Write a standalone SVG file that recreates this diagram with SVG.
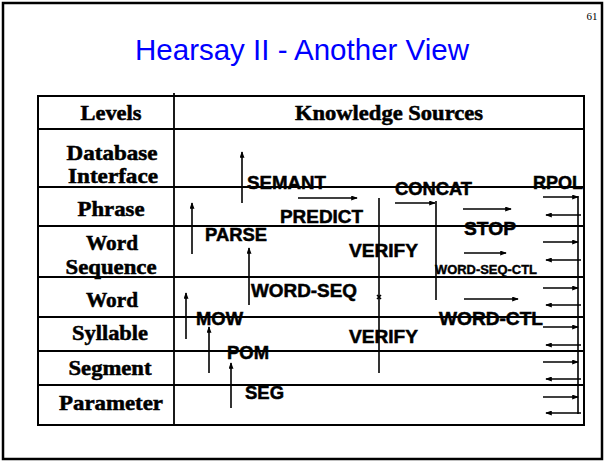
<svg xmlns="http://www.w3.org/2000/svg" width="606" height="463" viewBox="0 0 606 463">
<defs>
<marker id="ah" viewBox="0 0 8 6" refX="7" refY="3" markerWidth="7" markerHeight="5" markerUnits="userSpaceOnUse" orient="auto">
<path d="M0,0 L8,3 L0,6 Z" fill="#000"/>
</marker>
<style>
.frame{fill:#fff;stroke:#000;stroke-width:2.5}
.tb{fill:none;stroke:#000;stroke-width:2}
.rl{stroke:#000;stroke-width:1.8}
.cn{fill:none;stroke:#000;stroke-width:1.6}
.ar{fill:none;stroke:#000;stroke-width:1.6;marker-end:url(#ah)}
.lv{font-family:"Liberation Serif","Times New Roman",serif;font-weight:bold;font-size:20px;fill:#000;stroke:#000;stroke-width:0.5;text-anchor:middle}
.ks{font-family:"Liberation Sans",Arial,sans-serif;font-weight:bold;font-size:18.5px;fill:#000;stroke:#000;stroke-width:0.5}
.ksm{font-family:"Liberation Sans",Arial,sans-serif;font-weight:bold;font-size:12.5px;fill:#000;stroke:#000;stroke-width:0.4}
</style>
</defs>
<rect class="frame" x="3" y="3" width="599" height="456"/>
<text x="592" y="20" font-family="Liberation Serif,serif" font-size="11" text-anchor="middle">61</text>
<text x="302" y="60" font-family="Liberation Sans,Arial,sans-serif" font-size="29.5" fill="#0000ff" text-anchor="middle">Hearsay II - Another View</text>

<g id="table">
<rect class="tb" x="38" y="96" width="546" height="329"/>
<line class="rl" x1="174" y1="93" x2="174" y2="425"/>
<line class="rl" x1="38" y1="129" x2="584" y2="129"/>
<line class="rl" x1="38" y1="187" x2="584" y2="187"/>
<line class="rl" x1="38" y1="226" x2="584" y2="226"/>
<line class="rl" x1="38" y1="277" x2="584" y2="277"/>
<line class="rl" x1="38" y1="317" x2="584" y2="317"/>
<line class="rl" x1="38" y1="351" x2="584" y2="351"/>
<line class="rl" x1="38" y1="385" x2="584" y2="385"/>
</g>

<g id="levels">
<text class="lv" x="111" y="120" textLength="61" lengthAdjust="spacingAndGlyphs">Levels</text>
<text class="lv" x="112" y="160" textLength="91" lengthAdjust="spacingAndGlyphs">Database</text>
<text class="lv" x="113" y="183" textLength="90" lengthAdjust="spacingAndGlyphs">Interface</text>
<text class="lv" x="111" y="216" textLength="67" lengthAdjust="spacingAndGlyphs">Phrase</text>
<text class="lv" x="112" y="250" textLength="52" lengthAdjust="spacingAndGlyphs">Word</text>
<text class="lv" x="111" y="274" textLength="91" lengthAdjust="spacingAndGlyphs">Sequence</text>
<text class="lv" x="112" y="307" textLength="52" lengthAdjust="spacingAndGlyphs">Word</text>
<text class="lv" x="110" y="340" textLength="76" lengthAdjust="spacingAndGlyphs">Syllable</text>
<text class="lv" x="110" y="375" textLength="83" lengthAdjust="spacingAndGlyphs">Segment</text>
<text class="lv" x="111" y="410" textLength="104" lengthAdjust="spacingAndGlyphs">Parameter</text>
<text class="lv" x="389" y="120" textLength="188" lengthAdjust="spacingAndGlyphs">Knowledge Sources</text>
</g>

<g id="connectors">
<line class="ar" x1="242" y1="203" x2="242" y2="152"/>
<line class="ar" x1="298" y1="198" x2="357" y2="198"/>
<line class="ar" x1="395" y1="203" x2="435" y2="203"/>
<line class="cn" x1="436" y1="201" x2="436" y2="300"/>
<line class="cn" x1="379" y1="198" x2="379" y2="373"/>
<path class="cn" d="M377,295 L381,299 M381,295 L377,299" stroke-width="1.2"/>
<line class="ar" x1="463" y1="209" x2="511" y2="209"/>
<line class="ar" x1="464" y1="253" x2="506" y2="253"/>
<line class="ar" x1="464" y1="299" x2="518" y2="299"/>
<line class="ar" x1="192" y1="254" x2="192" y2="203"/>
<line class="ar" x1="249" y1="305" x2="249" y2="248"/>
<line class="ar" x1="186" y1="339" x2="186" y2="293"/>
<line class="ar" x1="209" y1="373" x2="209" y2="327"/>
<line class="ar" x1="231" y1="408" x2="231" y2="363"/>
<line class="cn" x1="578" y1="196" x2="578" y2="414"/>
<line class="ar" x1="543" y1="197" x2="578" y2="197"/>
<line class="ar" x1="543" y1="242" x2="578" y2="242"/>
<line class="ar" x1="543" y1="288" x2="578" y2="288"/>
<line class="ar" x1="543" y1="327" x2="578" y2="327"/>
<line class="ar" x1="543" y1="362" x2="578" y2="362"/>
<line class="ar" x1="543" y1="397" x2="578" y2="397"/>
<line class="ar" x1="581" y1="215" x2="546" y2="215"/>
<line class="ar" x1="581" y1="260" x2="546" y2="260"/>
<line class="ar" x1="581" y1="305" x2="546" y2="305"/>
<line class="ar" x1="581" y1="345" x2="546" y2="345"/>
<line class="ar" x1="581" y1="379" x2="546" y2="379"/>
<line class="ar" x1="581" y1="413" x2="546" y2="413"/>
</g>

<g id="semant"><text class="ks" x="247" y="189" textLength="79" lengthAdjust="spacingAndGlyphs">SEMANT</text></g>
<g id="concat"><text class="ks" x="395" y="195" textLength="77" lengthAdjust="spacingAndGlyphs">CONCAT</text></g>
<g id="rpol"><text class="ks" x="533" y="189" textLength="50" lengthAdjust="spacingAndGlyphs">RPOL</text></g>
<g id="predict"><text class="ks" x="280" y="223" textLength="83" lengthAdjust="spacingAndGlyphs">PREDICT</text></g>
<g id="parse"><text class="ks" x="205" y="241" textLength="62" lengthAdjust="spacingAndGlyphs">PARSE</text></g>
<g id="verify1"><text class="ks" x="349" y="257" textLength="69" lengthAdjust="spacingAndGlyphs">VERIFY</text></g>
<g id="stop"><text class="ks" x="464" y="235" textLength="52" lengthAdjust="spacingAndGlyphs">STOP</text></g>
<g id="wordseqctl"><text class="ksm" x="435" y="274" textLength="102" lengthAdjust="spacingAndGlyphs">WORD-SEQ-CTL</text></g>
<g id="wordseq"><text class="ks" x="251" y="297" textLength="106" lengthAdjust="spacingAndGlyphs">WORD-SEQ</text></g>
<g id="mow"><text class="ks" x="196" y="325" textLength="47" lengthAdjust="spacingAndGlyphs">MOW</text></g>
<g id="wordctl"><text class="ks" x="439" y="325" textLength="104" lengthAdjust="spacingAndGlyphs">WORD-CTL</text></g>
<g id="verify2"><text class="ks" x="349" y="343" textLength="69" lengthAdjust="spacingAndGlyphs">VERIFY</text></g>
<g id="pom"><text class="ks" x="227" y="359" textLength="42" lengthAdjust="spacingAndGlyphs">POM</text></g>
<g id="seg"><text class="ks" x="245" y="399" textLength="39" lengthAdjust="spacingAndGlyphs">SEG</text></g>
</svg>
